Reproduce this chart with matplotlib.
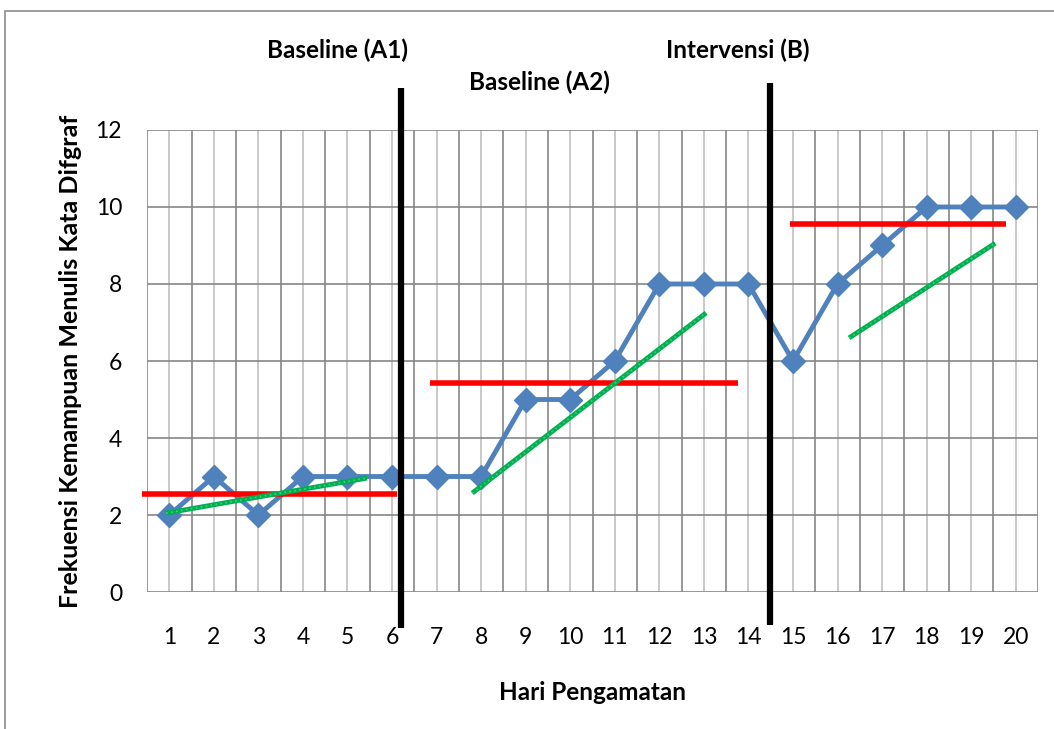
import matplotlib
matplotlib.use("Agg")
import matplotlib.pyplot as plt
from matplotlib.patches import Rectangle
import numpy as np

plt.rcParams['font.family'] = ['Lato', 'DejaVu Sans']

# data
hari = list(range(1, 21))
frekuensi = [2, 3, 2, 3, 3, 3, 3, 3, 5, 5, 6, 8, 8, 8, 6, 8, 9, 10, 10, 10]

# phase means (red) : x-start, x-end, level
mean_x = [(0.39, 6.12), (6.86, 13.77), (14.94, 19.79)]
mean_y = [2.55, 5.43, 9.56]

# trend lines (green) : (x0, x1), (y0, y1)
trend_x = [(0.93, 5.44), (7.80, 13.05), (16.26, 19.54)]
trend_y = [(2.05, 2.96), (2.57, 7.25), (6.60, 9.06)]

# phase separators
phase_x = [6.21, 14.49]
phase_y = [(-0.94, 13.09), (-0.86, 13.22)]

phase_labels = ["Baseline (A1)", "Baseline (A2)", "Intervensi (B)"]
phase_label_x = [4.77, 9.30, 13.75]
phase_label_y = [14.08, 13.25, 14.08]

fig = plt.figure(figsize=(10.54, 7.29), dpi=100)
ax = fig.add_axes([0.1395, 0.1879, 0.8453, 0.6338])

# outer chart border
fig.patches.append(Rectangle((5 / 1054, -0.1), 1.1, (729 - 11) / 729 + 0.1,
                             transform=fig.transFigure, fill=False,
                             edgecolor='#8c8c8c', lw=1.2))

ax.set_xlim(0.5, 20.5)
ax.set_ylim(0, 12)

# gridlines
for xb in np.arange(0.5, 21, 1):
    ax.axvline(xb, color='#868686', lw=1.2, zorder=1)
for xc in hari:
    ax.axvline(xc, color='#c0c0c0', lw=1.2, zorder=1)
for yv in range(0, 13, 2):
    ax.axhline(yv, color='#868686', lw=1.2, zorder=1)

for s in ax.spines.values():
    s.set_visible(False)

ax.set_xticks(hari)
ax.set_yticks(range(0, 13, 2))
ax.tick_params(length=0, labelsize=16.5)
ax.tick_params(axis='x', pad=25)
ax.tick_params(axis='y', pad=18)

ax.plot(hari, frekuensi, color='#4F81BD', lw=3.5, marker='D', ms=12,
        zorder=4, clip_on=False)

for (x0, x1), yv in zip(mean_x, mean_y):
    ax.plot([x0, x1], [yv, yv], color='#FF0000', lw=4, zorder=5, clip_on=False,
            solid_capstyle='butt')

for xs, ys in zip(trend_x, trend_y):
    ax.plot(xs, ys, color='#00B050', lw=3.5, zorder=5, solid_capstyle='butt')
    ax.plot(xs, ys, color='#3fd07a', lw=1.2, ls=(0, (1, 2)), zorder=6)

for xv, (y0, y1) in zip(phase_x, phase_y):
    ax.plot([xv, xv], [y0, y1], color='black', lw=4.5, zorder=6,
            clip_on=False, solid_capstyle='butt')

for lab, lx, ly in zip(phase_labels, phase_label_x, phase_label_y):
    ax.text(lx, ly, lab, ha='center', va='center', fontsize=17.5,
            fontweight='bold', clip_on=False)

ax.set_xlabel('Hari Pengamatan', fontsize=17.5, fontweight='bold', labelpad=24)
ax.set_ylabel('Frekuensi Kemampuan Menulis Kata Difgraf', fontsize=18,
              fontweight='bold', labelpad=10)

fig.savefig('out.png', dpi=100)
